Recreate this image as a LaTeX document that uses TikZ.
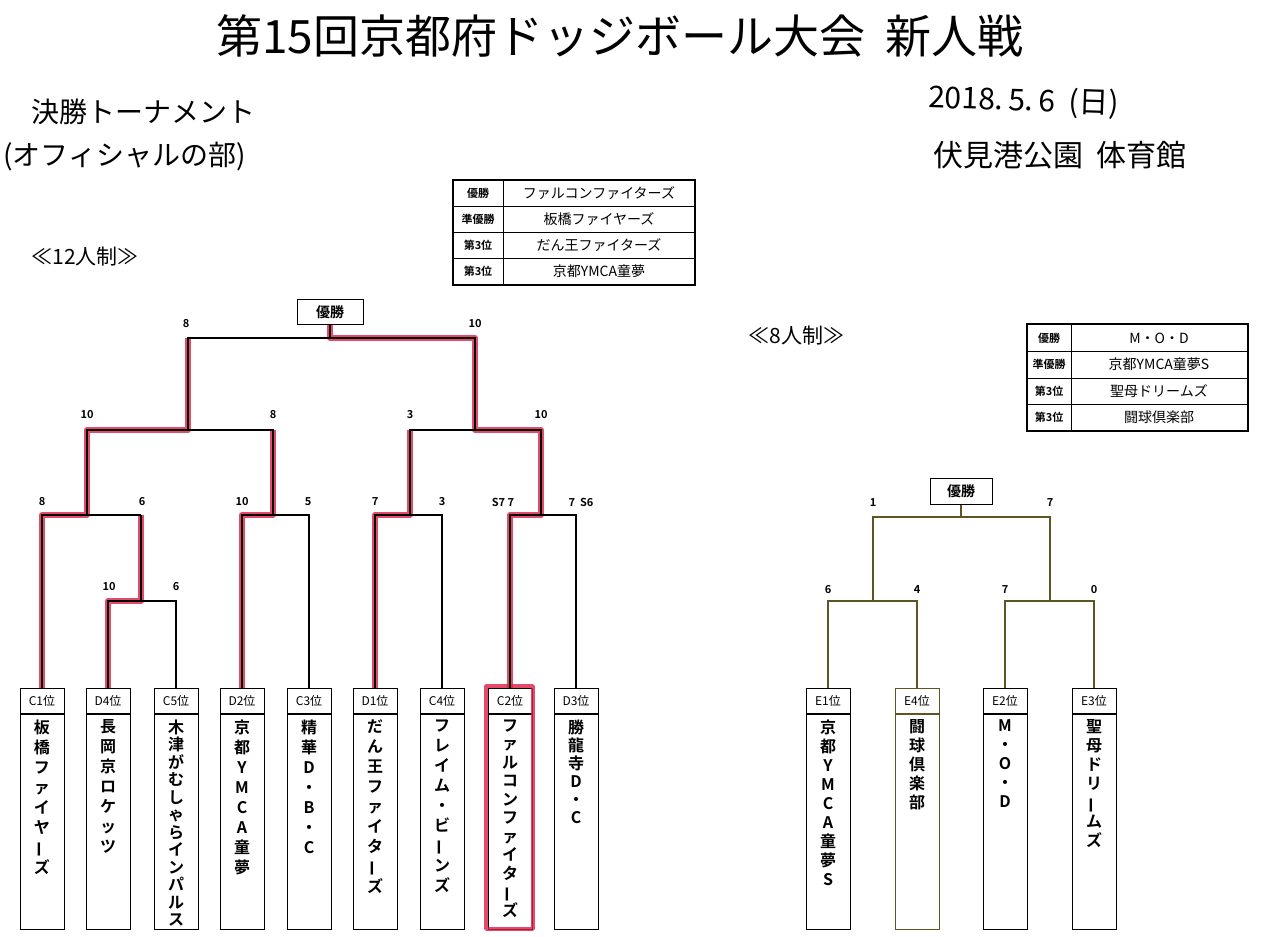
\documentclass[tikz,border=0pt]{standalone}
\usepackage{fontspec}
\newfontfamily\jp{Noto Sans CJK JP}[BoldFont={Noto Sans CJK JP Bold}]
\newfontfamily\jpl{Noto Sans CJK JP}
\setmainfont{Noto Sans CJK JP}
\definecolor{rd}{RGB}{222,30,70}
\definecolor{ol}{RGB}{95,85,35}
\newcommand\vb{\rotatebox[origin=c]{90}{ー}}
\tikzset{
 ln/.style={line width=1.2pt,black},
 oln/.style={line width=1.5pt,ol},
 red/.style={line width=6pt,rd,opacity=0.8,line join=round},
 hdr/.style={draw,line width=1pt,minimum width=44pt,minimum height=25pt,inner sep=0pt,font=\jp\fontsize{12}{12}\selectfont},
 bodyb/.style={draw,line width=1pt,minimum width=44pt,minimum height=215pt,inner sep=0pt},
 sc/.style={font=\jp\bfseries\fontsize{11}{11}\selectfont,inner sep=1pt},
 vt/.style={anchor=north,align=center,inner sep=0pt,font=\jp\bfseries\fontsize{16}{#1}\selectfont},
 tl/.style={font=\jp\bfseries\fontsize{11}{11}\selectfont},
 te/.style={font=\jpl\fontsize{14}{14}\selectfont},
}
\newcommand\tmbox[6]{%
 \node[hdr,#6] (h#1) at (#2,700.5) {#3};
 \node[bodyb,anchor=north,#6] (b#1) at (h#1.south) {};
 \node[vt=#5] (v#1) at ([yshift=-6pt]b#1.north) {#4};}
\begin{document}
\begin{tikzpicture}[x=1pt,y=-1pt]
\useasboundingbox[fill=white] (0,0) rectangle (1280,937);
% titles
\node[font=\jpl\fontsize{46}{46}\selectfont] (title) at (620,36) {第15回京都府ドッジボール大会\ \ 新人戦};
\node[font=\jpl\fontsize{28}{28}\selectfont,anchor=west] (t1) at (28,112) {決勝トーナメント};
\node[font=\jpl\fontsize{28}{28}\selectfont,anchor=west] (t2) at (0,157) {(オフィシャルの部)};
\node[font=\jpl\fontsize{21}{21}\selectfont,anchor=west] (t3) at (28,257) {≪12人制≫};
\node[font=\jpl\fontsize{21}{21}\selectfont,anchor=west] (t4) at (745,336) {≪8人制≫};
\node[font=\jpl\fontsize{30}{30}\selectfont,anchor=west,rotate=-2] (hw1) at (925,98) {2018.\,5.\,6\ \ (日)};
\node[font=\jpl\fontsize{30}{30}\selectfont,anchor=west] (hw2) at (930,155) {伏見港公園\ \ 体育館};
% table 12
\draw[line width=1.2pt] (453,180) rectangle (695,285);
\foreach \y in {206,232,258} \draw[line width=0.8pt] (453,\y) -- (695,\y);
\draw[line width=0.8pt] (503,180) -- (503,285);
\node[tl] (a1) at (478,193) {優勝};
\node[tl] (a2) at (478,219) {準優勝};
\node[tl] (a3) at (478,245) {第3位};
\node[tl] (a4) at (478,271) {第3位};
\node[te] (e1) at (599,193) {ファルコンファイターズ};
\node[te] (e2) at (599,219) {板橋ファイヤーズ};
\node[te] (e3) at (599,245) {だん王ファイターズ};
\node[te] (e4) at (599,271) {京都YMCA童夢};
% table 8
\draw[line width=1.2pt] (1027,324) rectangle (1248,431);
\foreach \y in {351,378,404} \draw[line width=0.8pt] (1027,\y) -- (1248,\y);
\draw[line width=0.8pt] (1071,324) -- (1071,431);
\node[tl] (f1) at (1049,338) {優勝};
\node[tl] (f2) at (1049,364) {準優勝};
\node[tl] (f3) at (1049,391) {第3位};
\node[tl] (f4) at (1049,417) {第3位};
\node[te] (g1) at (1159,338) {M・O・D};
\node[te] (g2) at (1159,364) {京都YMCA童夢S};
\node[te] (g3) at (1159,391) {聖母ドリームズ};
\node[te] (g4) at (1159,417) {闘球倶楽部};
% winner boxes
\node[draw,line width=1pt,minimum width=66pt,minimum height=25pt,font=\jp\bfseries\fontsize{14}{14}\selectfont] (win) at (330,312) {優勝};
\node[draw,line width=1pt,minimum width=62pt,minimum height=26pt,font=\jp\bfseries\fontsize{14}{14}\selectfont] (win8) at (961,491) {優勝};
% teams 12
\tmbox{1}{42}{C1位}{板\\橋\\フ\\ァ\\イ\\ヤ\\\vb\\ズ}{20}{}
\tmbox{2}{108}{D4位}{長\\岡\\京\\ロ\\ケ\\ッ\\ツ}{20}{}
\tmbox{3}{176}{C5位}{木\\津\\が\\む\\し\\ゃ\\ら\\イ\\ン\\パ\\ル\\ス}{17.5}{}
\tmbox{4}{242}{D2位}{京\\都\\Y\\M\\C\\A\\童\\夢}{20}{}
\tmbox{5}{309}{C3位}{精\\華\\D\\・\\B\\・\\C}{20}{}
\tmbox{6}{375}{D1位}{だ\\ん\\王\\フ\\ァ\\イ\\タ\\\vb\\ズ}{20}{}
\tmbox{7}{442}{C4位}{フ\\レ\\イ\\ム\\・\\ビ\\\vb\\ン\\ズ}{20}{}
\tmbox{8}{510}{C2位}{フ\\ァ\\ル\\コ\\ン\\フ\\ァ\\イ\\タ\\\vb\\ズ}{18.5}{}
\tmbox{9}{576}{D3位}{勝\\龍\\寺\\D\\・\\C}{18}{}
% teams 8
\tmbox{11}{828}{E1位}{京\\都\\Y\\M\\C\\A\\童\\夢\\S}{19}{}
\tmbox{12}{917}{E4位}{闘\\球\\倶\\楽\\部}{19}{draw=ol}
\tmbox{13}{1005}{E2位}{M\\・\\O\\・\\D}{19}{}
\tmbox{14}{1094}{E3位}{聖\\母\\ド\\リ\\\vb\\ム\\ズ}{19}{}
% red paths
\draw[red] (h1.north) -- (42,515) -- (87,515) -- (87,430) -- (188,430) -- (188,338);
\draw[red] (h2.north) -- (108,601) -- (141,601) -- (141,515);
\draw[red] (h4.north) -- (242,515) -- (273,515) -- (273,430);
\draw[red] (h6.north) -- (375,515) -- (410,515) -- (410,430);
\draw[red] (h8.north) -- (510,515) -- (541,515) -- (541,430) -- (475,430) -- (475,338) -- (330,338) -- (win.south);
\draw[red,line width=3.5pt] (486,686) rectangle (533,929);
% black lines 12
\draw[ln] (h1.north) -- (42,515) -- (141,515);
\draw[ln] (h2.north) -- (108,601) -- (176,601) -- (h3.north);
\draw[ln] (141,515) -- (141,601);
\draw[ln] (h4.north) -- (242,515) -- (309,515) -- (h5.north);
\draw[ln] (h6.north) -- (375,515) -- (442,515) -- (h7.north);
\draw[ln] (h8.north) -- (510,515) -- (576,515) -- (h9.north);
\draw[ln] (87,515) -- (87,430) -- (273,430) -- (273,515);
\draw[ln] (410,515) -- (410,430) -- (541,430) -- (541,515);
\draw[ln] (188,430) -- (188,338) -- (475,338) -- (475,430);
\draw[ln] (win.south) -- (330,338);
% scores 12
\node[sc] (s1) at (186,324) {8};
\node[sc] (s2) at (475,324) {10};
\node[sc] (s3) at (87,415) {10};
\node[sc] (s4) at (273,415) {8};
\node[sc] (s5) at (410,415) {3};
\node[sc] (s6) at (541,415) {10};
\node[sc] (s7) at (42,502) {8};
\node[sc] (s8) at (142,502) {6};
\node[sc] (s9) at (242,502) {10};
\node[sc] (s10) at (308,502) {5};
\node[sc] (s11) at (375,502) {7};
\node[sc] (s12) at (442,502) {3};
\node[sc] (s13) at (503,502) {S7\ 7};
\node[sc] (s14) at (581,502) {7\ \ S6};
\node[sc] (s15) at (109,587) {10};
\node[sc] (s16) at (176,587) {6};
% lines 8
\draw[oln] (h11.north) -- (828,601) -- (917,601) -- (h12.north);
\draw[oln] (h13.north) -- (1005,601) -- (1094,601) -- (h14.north);
\draw[oln] (873,601) -- (873,517) -- (1050,517) -- (1050,601);
\draw[oln] (win8.south) -- (961,517);
\node[sc] (u1) at (873,503) {1};
\node[sc] (u2) at (1050,503) {7};
\node[sc] (u3) at (828,590) {6};
\node[sc] (u4) at (917,590) {4};
\node[sc] (u5) at (1005,590) {7};
\node[sc] (u6) at (1094,590) {0};
\end{tikzpicture}
\end{document}
